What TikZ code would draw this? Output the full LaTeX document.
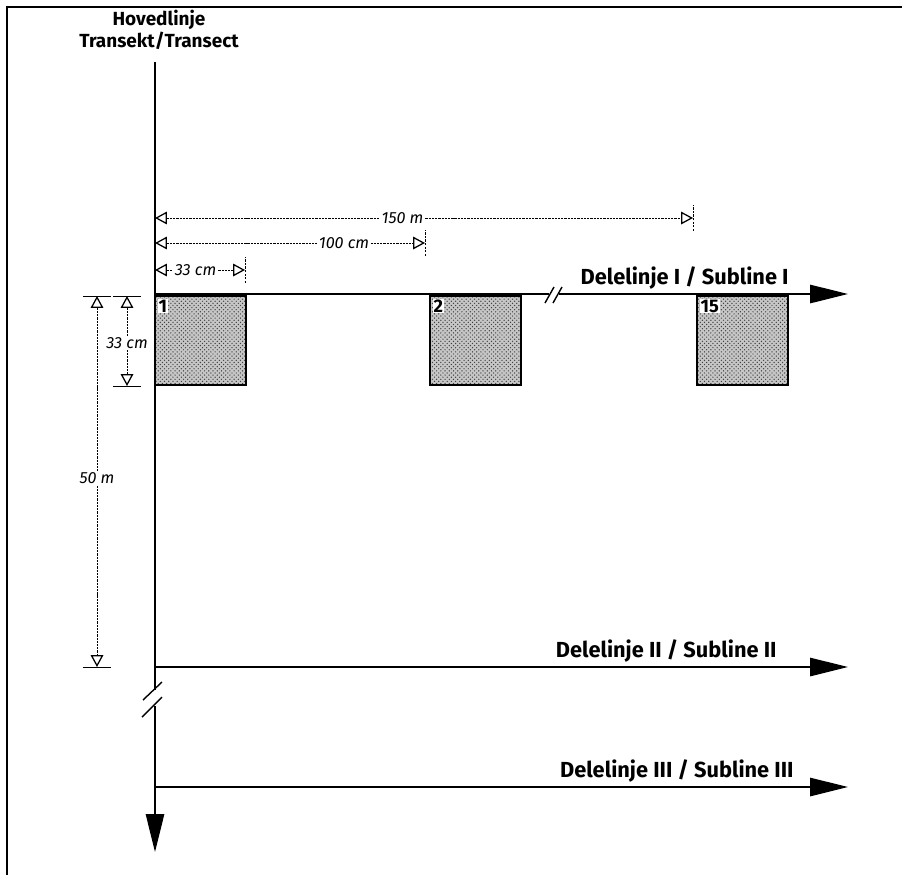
\documentclass[tikz,border=0pt]{standalone}
\usepackage{fontspec}
\setmainfont{Fira Sans}
\usetikzlibrary{arrows.meta,patterns,positioning}
\begin{document}
\begin{tikzpicture}[x=0.025cm,y=-0.025cm,
  every node/.style={inner sep=1pt,outer sep=0pt},
  mainline/.style={line width=1.4pt},
  subline/.style={line width=1.4pt,-{Triangle[length=27pt,width=13pt]}},
  dimline/.style={line width=0.5pt,dash pattern=on 1.6pt off 0.7pt,
    {Triangle[open,length=8.5pt,width=9pt,line width=0.9pt]}-{Triangle[open,length=8.5pt,width=9pt,line width=0.9pt]}},
  dimtick/.style={line width=0.7pt},
  dimmark/.style={line width=0.5pt,dash pattern=on 1.5pt off 1pt},
  dimlabel/.style={font=\itshape\fontsize{11.5}{13}\selectfont,fill=white,text opacity=1},
  linelabel/.style={font=\bfseries\fontsize{15.5}{18}\selectfont,anchor=south east},
  plot/.style={draw,line width=1.2pt,preaction={fill=gray!45},pattern=crosshatch dots,pattern color=black!75},
  plotnum/.style={font=\bfseries\fontsize{13}{15}\selectfont,anchor=north west,fill=white,inner sep=0.5pt}]
  \useasboundingbox (0,0) rectangle (902,875);
  % frame
  \draw[line width=1pt] (7,890)--(7,7)--(915,7);
  % main transect
  \coordinate (T0) at (155,62);
  \coordinate (Tb1) at (155,690);
  \coordinate (Tb2) at (155,706);
  \coordinate (T1) at (155,852);
  \node[font=\bfseries\fontsize{13.5}{16}\selectfont,align=center] (head) at (159,30) {Hovedlinje\\Transekt/Transect};
  \draw[mainline] (T0)--(Tb1);
  \draw[subline] (Tb2)--(T1);
  \draw[line width=1pt] (162,682)--(143,700);
  \draw[line width=1pt] (162,697)--(142,717);
  % sublines
  \coordinate (S1) at (155,294);
  \coordinate (S1a) at (549,294);
  \coordinate (S1b) at (559,294);
  \coordinate (S1e) at (848,294);
  \coordinate (S2) at (155,667);
  \coordinate (S2e) at (848,667);
  \coordinate (S3) at (155,787);
  \coordinate (S3e) at (848,787);
  \draw[mainline] (S1)--(S1a);
  \draw[subline] (S1b)--(S1e);
  \draw[line width=1pt] (545,303)--(554,287);
  \draw[line width=1pt] (553,303)--(562,287);
  \draw[subline] (S2)--(S2e);
  \draw[subline] (S3)--(S3e);
  \node[linelabel] (l1) at (790,291) {Delelinje I / Subline I};
  \node[linelabel] (l2) at (778,664) {Delelinje II / Subline II};
  \node[linelabel] (l3) at (795,784) {Delelinje III / Subline III};
  % plots
  \foreach \n/\x in {1/155,2/430,15/697}{
    \draw[plot] (\x,296) rectangle ++(91,89);
    \node[plotnum] (p\n) at (\x+3,299) {\n};
  }
  % horizontal dimensions
  \coordinate (H150) at (693,218);
  \coordinate (H100) at (425,243);
  \coordinate (H33) at (245,270);
  \draw[dimline] (155,218)--(H150) node[dimlabel,pos=0.46] (d150) {150 m};
  \draw[dimline] (155,243)--(H100) node[dimlabel,pos=0.7] (d100) {100 cm};
  \draw[dimline] (155,270)--(H33) node[dimlabel,pos=0.45] (d33h) {33 cm};
  \draw[dimmark] ([yshift=-9]H150)--([yshift=9]H150);
  \draw[dimmark] ([yshift=-9]H100)--([yshift=9]H100);
  \draw[dimmark] ([yshift=-9]H33)--([yshift=9]H33);
  % vertical dimensions
  \coordinate (V33a) at (127,296);
  \coordinate (V33b) at (127,386);
  \coordinate (V50a) at (97,296);
  \coordinate (V50b) at (97,667);
  \draw[dimline] (V33a)--(V33b) node[dimlabel,pos=0.52] (d33v) {33 cm};
  \draw[dimline] (V50a)--(V50b) node[dimlabel,pos=0.49] (d50) {50 m};
  \foreach \c in {V33a,V33b,V50a,V50b}
    \draw[dimtick] ([xshift=-10]\c)--([xshift=10]\c);
\end{tikzpicture}
\end{document}
